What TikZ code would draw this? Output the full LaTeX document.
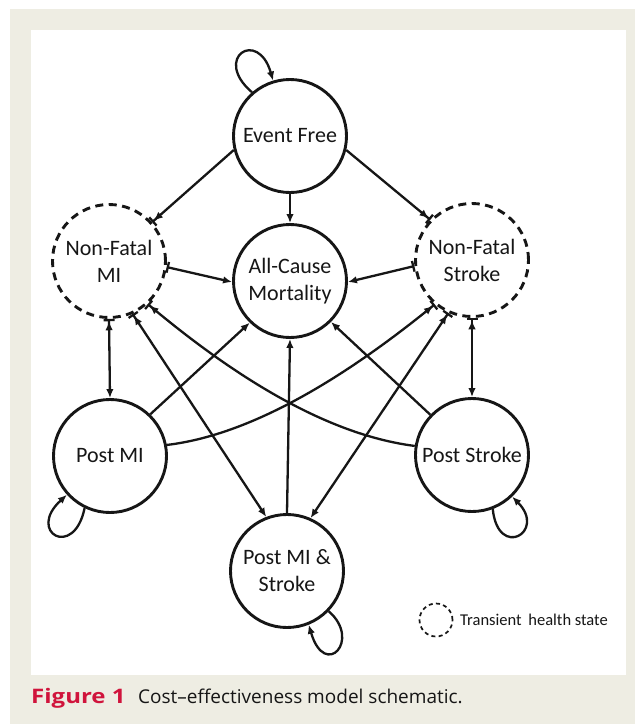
\documentclass[tikz,border=0pt]{standalone}
\usepackage{fontspec}
\usepackage{graphicx}
\setmainfont{Carlito}
\newfontfamily\capfont{Open Sans}
\usetikzlibrary{arrows.meta}
\definecolor{beige}{RGB}{238,237,227}
\definecolor{figred}{RGB}{208,20,60}
\definecolor{ink}{RGB}{22,22,22}
\tikzset{
  hd/.tip={Latex[length=9pt,width=7.5pt]},
  tk/.tip={Bar[width=11pt,line width=2.3pt]}
}
\begin{document}
\begin{tikzpicture}[x=1pt,y=-1pt,
  state/.style={circle,draw=ink,line width=2.9pt,minimum size=113pt,inner sep=0pt,align=center,
    font=\fontsize{22}{27}\selectfont,text=ink},
  trans/.style={state,dash pattern=on 8pt off 5.5pt},
  conn/.style={draw=ink,line width=2.3pt}]
\useasboundingbox (0,0) rectangle (635,724);
\fill[white] (0,0) rectangle (635,724);
\fill[beige] (10,9) rectangle (635,724);
\fill[white] (31,30) rectangle (626,675);

\node[state] (ef)   at (290,136) {Event Free};
\node[trans] (nfmi) at (109,261) {Non-Fatal\\MI};
\node[state] (acm)  at (290,281) {All-Cause\\Mortality};
\node[trans] (nfs)  at (472,260) {Non-Fatal\\Stroke};
\node[state] (pmi)  at (110,456) {Post MI};
\node[state] (ps)   at (472,455) {Post Stroke};
\node[state] (pms)  at (287,571) {Post MI \&\\Stroke};

% from Event Free
\draw[conn,-{hd[]tk[]}] (ef.194) -- (nfmi.42);
\draw[conn,-{hd[]}] (ef.270) -- (acm.90);
\draw[conn,-{hd[]tk[]}] (ef.346) -- (nfs.136);
% into All-Cause Mortality
\draw[conn,{tk[]}-{hd[]}] (nfmi.-6) -- (acm.181);
\draw[conn,{tk[]}-{hd[]}] (nfs.186) -- (acm.-1);
\draw[conn,-{hd[]}] (pmi.46) -- (acm.226);
\draw[conn,-{hd[]}] (ps.136) -- (acm.315);
\draw[conn,-{hd[]}] (pms.90) -- (acm.270);
% transient <-> post states
\draw[conn,{tk[]hd[]}-{hd[]}] (nfmi.270) -- (pmi.90);
\draw[conn,{tk[]hd[]}-{hd[]}] (nfs.270) -- (ps.90);
\draw[conn,{tk[]hd[]}-{hd[]}] (nfmi.294) -- (pms.111);
\draw[conn,{tk[]hd[]}-{hd[]}] (nfs.246) -- (pms.66);
% crossing curves
\draw[conn,-{hd[]tk[]}] (pmi.11) .. controls (242,436) and (331,389) .. (nfs.230);
\draw[conn,-{hd[]tk[]}] (ps.171) .. controls (337,436) and (249,389) .. (nfmi.312);
% self loops
\draw[conn,-{hd[]}] (ef.131) .. controls (212,58) and (258,28) .. (ef.107);
\draw[conn,-{hd[]}] (pmi.244) .. controls (74,560) and (26,532) .. (pmi.222);
\draw[conn,-{hd[]}] (ps.291) .. controls (498,560) and (547,532) .. (ps.314);
\draw[conn,-{hd[]}] (pms.316) .. controls (362,640) and (325,680) .. (pms.292);

% legend
\node[circle,draw=ink,line width=1.7pt,dash pattern=on 4pt off 3.3pt,minimum size=33pt,inner sep=0pt] (leg) at (436,620) {};
\node[anchor=west,inner sep=0pt,font=\fontsize{16.5}{19}\selectfont,text=ink] (legt) at (460,620) {Transient\hspace{3pt} health state};

% caption
\node[anchor=base west,inner sep=0pt,font=\capfont\bfseries\fontsize{20}{24}\selectfont,text=figred] (fig) at (31,703) {\scalebox{1.2}[1]{Figure 1}};
\node[anchor=base west,inner sep=0pt,font=\capfont\fontsize{19}{24}\selectfont,text=ink] (cap) at (138,703) {Cost–effectiveness model schematic.};
\end{tikzpicture}
\end{document}
